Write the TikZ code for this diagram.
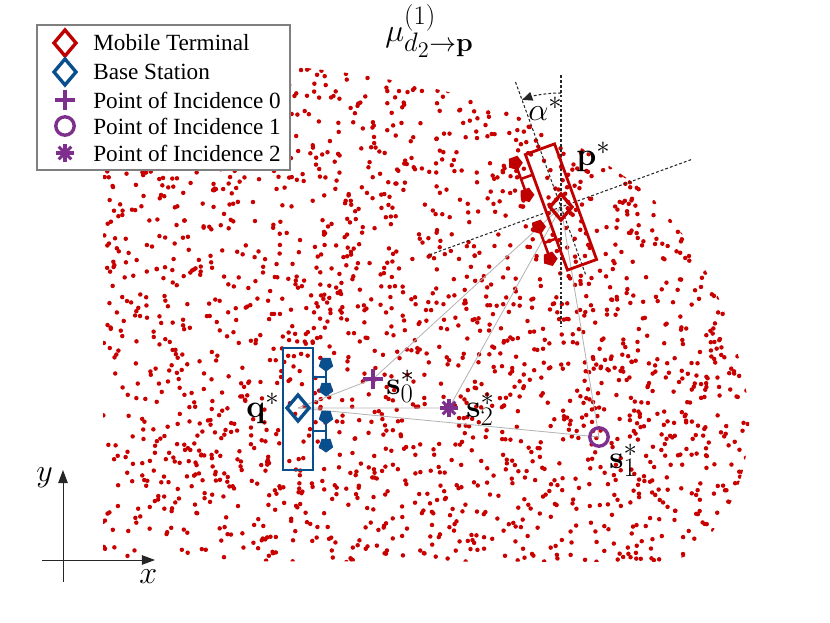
\documentclass[tikz,border=0pt]{standalone}
\usepackage[no-math]{fontspec}
\setmainfont{Liberation Serif}
\usetikzlibrary{arrows.meta, shapes.geometric}
\DeclareMathSizes{20.74}{20.74}{17.28}{14.4}
\definecolor{dotred}{HTML}{C80000}
\definecolor{mtred}{HTML}{C00000}
\definecolor{bsblue}{HTML}{0A4F8D}
\definecolor{poipurple}{HTML}{7E2F8E}
\definecolor{raygray}{HTML}{B4B4B4}
\definecolor{boxgray}{HTML}{7F7F7F}
\definecolor{axgray}{HTML}{262626}
\newcommand{\legfont}{\fontsize{16.5}{19}\selectfont}

\tikzset{
  dot/.style={fill=dotred},
  ray/.style={raygray, line width=0.6pt},
  guide/.style={black!85, dash pattern=on 2pt off 1.5pt, line width=0.75pt},
  arraybox/.style={line width=2pt},
  feed/.style={line width=1.8pt},
  element/.style={regular polygon, regular polygon sides=5, shape border rotate=180,
    minimum size=3.8mm, inner sep=0pt, fill},
  lbl/.style={font=\huge, scale=1.1, inner sep=0pt, anchor=base west},
  legtext/.style={font=\legfont, inner sep=0pt, anchor=west},
  axis/.style={axgray, line width=0.7pt, -{Triangle[length=3.3mm, width=2.4mm]}},
  diam/.pic={\draw[line width=2.4pt, miter limit=4] (0,-13) -- (11,0) -- (0,13) -- (-11,0) -- cycle;},
  plusmark/.pic={\draw[line width=2.6pt] (-10,0) -- (10,0) (0,-10) -- (0,10);},
  ringmark/.pic={\draw[line width=2.4pt] (0,0) circle[radius=2.3mm];},
  starmark/.pic={\foreach \a in {0,45,90,135} \draw[line width=2.2pt] (\a:9) -- (\a+180:9);},
}

\begin{document}
\begin{tikzpicture}[x=0.025cm, y=-0.025cm]
\useasboundingbox (0,0) rectangle (830,623);

% Point cloud
\begin{scope}
\clip (103,60) -- (288,66) -- plot[smooth] coordinates {(288,66) (340,72) (380,78) (423,86) (452,93)
  (487,102) (515,115) (548,130) (578,146) (618,172) (655,201) (697,255) (726,316) (744,379)
  (749,425) (742,474) (723,517) (692,553) (660,562)} -- (103,561) -- cycle;
\pgfmathsetseed{4711}
\foreach \i in {1,...,2300}{
  \pgfmathsetmacro{\dx}{103+646*rnd}
  \pgfmathsetmacro{\dy}{60+502*rnd}
  \fill[dot] (\dx,\dy) circle[radius=0.56mm];
}
\end{scope}

% Positions
\coordinate (q) at (298,408);
\coordinate (p) at (561,207);
\coordinate (s0) at (373,379);
\coordinate (s1) at (599,437);
\coordinate (s2) at (449,408);

% Rays
\draw[ray] (q) -- (s0) -- (p);
\draw[ray] (q) -- (s2) -- (p);
\draw[ray] (q) -- (s1) -- (p);

% Base station array
\draw[bsblue, arraybox] (283,348) rectangle (313,470);
\pic[bsblue] at (q) {diam};
\draw[bsblue, feed] (313,377) -- (326,377) (326,364) -- (326,389);
\draw[bsblue, feed] (313,431) -- (326,431) (326,417) -- (326,445);
\foreach \v [count=\k] in {364,389,417,445}
  \node[element, bsblue] (b\k) at (326,\v) {};

% Mobile terminal array
\draw[guide] (561,75) -- (561,327);
\begin{scope}[shift={(p)}, rotate=20]
  \draw[guide] (0,-133) -- (0,73);
  \draw[guide] (-140,0) -- (140,0);
  \draw[mtred, arraybox] (-15.5,-61.5) rectangle (15.5,61.5);
  \pic[mtred] at (0,0) {diam};
  \draw[mtred, feed] (-15.5,-40) -- (-28,-40) (-28,-57) -- (-28,-23);
  \draw[mtred, feed] (-15.5,28) -- (-28,28) (-28,11) -- (-28,45);
  \foreach \v [count=\k] in {-57,-23,11,45}
    \node[element, mtred, transform shape] (m\k) at (-28,\v) {};
\end{scope}

% Angle
\draw[guide, -{Triangle[length=2.6mm, width=2.2mm]}] (561,93) arc[start angle=90, end angle=110, radius=2.85cm];

% Points of incidence
\pic[poipurple] at (s0) {plusmark};
\pic[poipurple] at (s1) {ringmark};
\pic[poipurple] at (s2) {starmark};

% Labels
\node[lbl] (lq) at (246,417) {$\mathbf{q}^*$};
\node[lbl] (lp) at (576,166) {$\mathbf{p}^*$};
\node[lbl] (ls0) at (386,394) {$\mathbf{s}_0^*$};
\node[lbl] (ls2) at (466,417) {$\mathbf{s}_2^*$};
\node[lbl] (ls1) at (609,468) {$\mathbf{s}_1^*$};
\node[lbl] (la) at (528,121) {$\alpha^*$};
\node[lbl] (title) at (385,42) {$\mu^{(1)}_{d_2\to\mathbf{p}}$};

% Axes
\coordinate (ybot) at (63,582);
\coordinate (ytop) at (63,470);
\coordinate (xleft) at (42,560);
\coordinate (xright) at (155,560);
\draw[axis] (ybot) -- (ytop);
\draw[axis] (xleft) -- (xright);
\node[lbl] (ly) at (36,481) {$y$};
\node[lbl] (lx) at (139,583) {$x$};

% Legend
\fill[white] (37,25) rectangle (290,170);
\draw[boxgray, line width=1pt] (37,25) rectangle (290,170);
\pic[mtred] at (65,43) {diam};
\pic[bsblue] at (65,72) {diam};
\pic[poipurple] at (65,100) {plusmark};
\pic[poipurple] at (65,126) {ringmark};
\pic[poipurple] at (65,153) {starmark};
\node[legtext] (l1) at (93,43) {Mobile Terminal};
\node[legtext] (l2) at (93,72) {Base Station};
\node[legtext] (l3) at (93,100) {Point of Incidence 0};
\node[legtext] (l4) at (93,126) {Point of Incidence 1};
\node[legtext] (l5) at (93,153) {Point of Incidence 2};

\end{tikzpicture}
\end{document}
